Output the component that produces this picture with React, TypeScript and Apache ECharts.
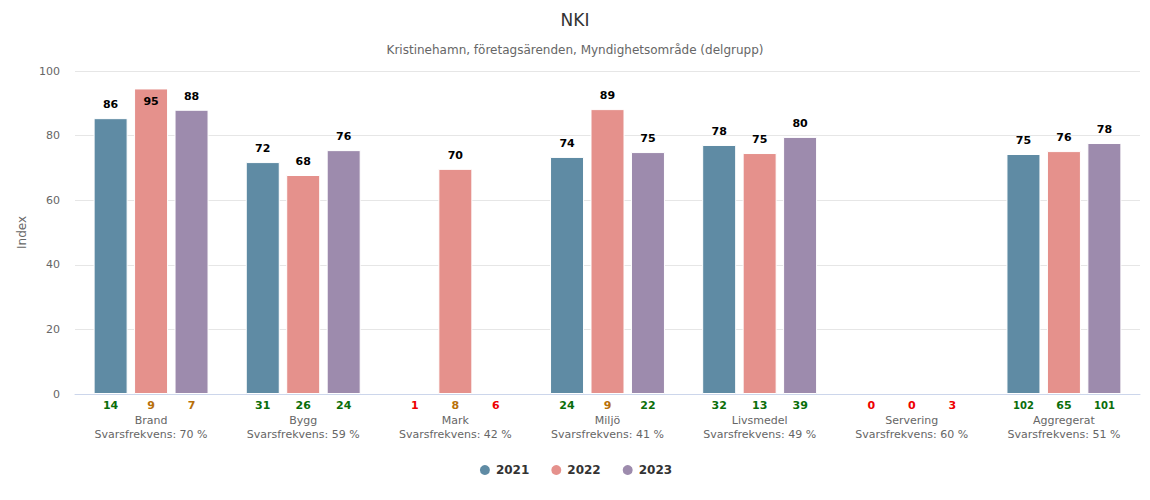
import React, { useEffect, useRef } from "react";
import * as echarts from "echarts";

const categories = ["Brand", "Bygg", "Mark", "Miljö", "Livsmedel", "Servering", "Aggregerat"];
const responseRates = [70, 59, 42, 41, 49, 60, 51];
const years = ["2021", "2022", "2023"];
const values2021 = [85.4, 71.8, null, 73.4, 77.1, null, 74.3];
const values2022 = [94.6, 67.8, 69.7, 88.2, 74.6, null, 75.2];
const values2023 = [88.0, 75.5, null, 74.9, 79.6, null, 77.7];
const labels2021 = [86, 72, null, 74, 78, null, 75];
const labels2022 = [95, 68, 70, 89, 75, null, 76];
const labels2023 = [88, 76, null, 75, 80, null, 78];
const counts2021 = [14, 31, 1, 24, 32, 0, 102];
const counts2022 = [9, 26, 8, 9, 13, 0, 65];
const counts2023 = [7, 24, 6, 22, 39, 3, 101];
const colors = ["#5f8ba4", "#e5918c", "#9d8bad"];
const FONT = "DejaVu Sans";

export default function App() {
  const ref = useRef<HTMLDivElement>(null);
  useEffect(() => {
    document.body.style.margin = "0";
    const chart = echarts.init(ref.current!, null, { renderer: "svg" });
    const valueSets = [values2021, values2022, values2023];
    const labelSets = [labels2021, labels2022, labels2023];
    const countSets = [counts2021, counts2022, counts2023];
    const countStyle = (n: number) => {
      const c = n < 7 ? "r" : n < 10 ? "o" : "g";
      return n >= 100 ? c + "s" : c;
    };
    const cnt = (color: string, size: number) => ({
      color,
      fontWeight: "bold" as const,
      fontSize: size,
      width: 40.5,
      align: "center" as const,
      lineHeight: 16,
      fontFamily: FONT,
    });
    const series = years.map((y, s) => ({
      name: y,
      type: "bar",
      barWidth: 34,
      barGap: "19%",
      itemStyle: { color: colors[s], borderColor: "#ffffff", borderWidth: 1 },
      label: {
        show: true,
        position: "top",
        distance: 8,
        color: "#000",
        fontWeight: "bold",
        fontSize: 11,
        fontFamily: FONT,
        formatter: (p: any) => {
          const l = labelSets[s][p.dataIndex];
          return l == null ? "" : String(l);
        },
      },
      data: valueSets[s].map((v) => {
        if (v != null && v > 92) {
          return { value: v, label: { position: "insideTop", distance: 8 } };
        }
        return v == null ? "-" : v;
      }),
    }));
    chart.setOption({
      animation: false,
      textStyle: { fontFamily: FONT },
      color: colors,
      title: [
        {
          text: "NKI",
          left: "center",
          top: 6,
          textStyle: { fontSize: 17, fontWeight: "normal", color: "#333", fontFamily: FONT },
        },
        {
          text: "Kristinehamn, företagsärenden, Myndighetsområde (delgrupp)",
          left: "center",
          top: 39,
          textStyle: { fontSize: 12, fontWeight: "normal", color: "#666", fontFamily: FONT },
        },
      ],
      legend: {
        data: years,
        bottom: 18,
        left: "center",
        icon: "circle",
        itemWidth: 12,
        itemHeight: 12,
        itemGap: 20,
        textStyle: { fontWeight: "bold", fontSize: 12, color: "#333", fontFamily: FONT },
      },
      grid: { left: 75, right: 10, top: 71, bottom: 106 },
      xAxis: {
        type: "category",
        data: categories,
        axisLine: { lineStyle: { color: "#ccd6eb" } },
        axisTick: { show: false },
        axisLabel: {
          interval: 0,
          margin: 3,
          formatter: (value: string, idx: number) => {
            const nums = countSets.map((c) => `{${countStyle(c[idx])}|${c[idx]}}`).join("");
            return `${nums}\n{n|${value}}\n{n|Svarsfrekvens: ${responseRates[idx]} %}`;
          },
          rich: {
            g: cnt("#0a6e0a", 11),
            gs: cnt("#0a6e0a", 10),
            o: cnt("#b8700a", 11),
            r: cnt("#ee0000", 11),
            n: { color: "#666", fontSize: 11, lineHeight: 14, fontFamily: FONT },
          },
        },
      },
      yAxis: {
        type: "value",
        min: 0,
        max: 100,
        interval: 20,
        name: "Index",
        nameLocation: "middle",
        nameGap: 47,
        nameTextStyle: { color: "#666", fontSize: 12, fontFamily: FONT },
        axisLabel: { color: "#666", fontSize: 11, margin: 15, fontFamily: FONT },
        splitLine: { lineStyle: { color: "#e6e6e6" } },
        axisLine: { show: false },
        axisTick: { show: false },
      },
      series,
    });
    return () => chart.dispose();
  }, []);
  return <div ref={ref} style={{ width: 1150, height: 500 }} />;
}
